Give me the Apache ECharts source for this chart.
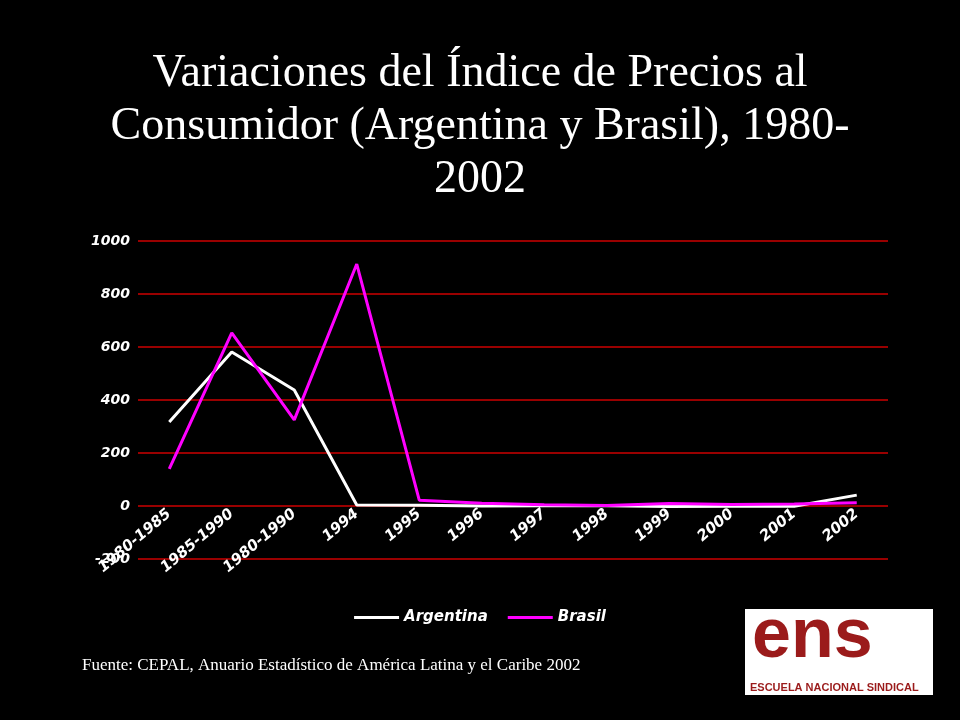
<!DOCTYPE html><html><head><meta charset="utf-8"><script src="https://cdn.jsdelivr.net/npm/echarts@6/dist/echarts.min.js"></script>
<style>html,body{margin:0;background:#000}#c{width:960px;height:720px}</style></head><body><div id="c"></div><script>
const categories=['1980-1985','1985-1990','1980-1990','1994','1995','1996','1997','1998','1999','2000','2001','2002'];
const argentina=[317,581,438,4,3,0,1,1,-2,-1,-1,41];
const brasil=[140,653,325,913,22,10,5,2,9,6,8,12];
const yTicks=[-200,0,200,400,600,800,1000];
const chart=echarts.init(document.getElementById('c'));
chart.setOption({backgroundColor:'#000',animation:false,
title:{text:'Variaciones del Índice de Precios al\nConsumidor (Argentina y Brasil), 1980-\n2002',left:'center',top:42,textStyle:{color:'#fff',fontFamily:'Liberation Serif',fontWeight:'normal',fontSize:46,lineHeight:53}},
grid:{left:138,right:72,top:241,bottom:161},
legend:{bottom:90,left:'center',itemWidth:45,itemGap:20,textStyle:{color:'#fff',fontFamily:'DejaVu Sans',fontStyle:'italic',fontWeight:'bold',fontSize:15},data:['Argentina','Brasil'],icon:'rect',itemHeight:3},
xAxis:{type:'category',data:categories,boundaryGap:true,offset:-53,axisLine:{show:false},axisTick:{show:false},axisLabel:{color:'#fff',rotate:40,fontFamily:'DejaVu Sans',fontWeight:'bold',fontStyle:'italic',fontSize:15,interval:0,margin:6}},
yAxis:{type:'value',min:-200,max:1000,interval:200,axisLine:{show:false},axisTick:{show:false},splitLine:{lineStyle:{color:['#cc0000'],width:1.5}},axisLabel:{color:'#fff',fontFamily:'DejaVu Sans',fontWeight:'bold',fontStyle:'italic',fontSize:14,formatter:v=>yTicks.includes(v)?String(v):''}},
series:[{name:'Argentina',type:'line',data:argentina,symbol:'none',lineStyle:{color:'#fff',width:3},itemStyle:{color:'#fff'}},
{name:'Brasil',type:'line',data:brasil,symbol:'none',lineStyle:{color:'#ff00ff',width:3},itemStyle:{color:'#ff00ff'}}],
graphic:[{type:'text',left:82,top:657,style:{text:'Fuente: CEPAL, Anuario Estadístico de América Latina y el Caribe 2002',fill:'#fff',font:'17px Liberation Serif'}},
{type:'rect',shape:{x:745,y:609,width:188,height:86},style:{fill:'#fff'}},
{type:'text',left:752,top:603,style:{text:'ens',fill:'#9b1b1b',font:'bold 70px Liberation Sans'}},
{type:'text',left:750,top:682,style:{text:'ESCUELA NACIONAL SINDICAL',fill:'#9b1b1b',font:'bold 11px Liberation Sans'}}]
});
</script></body></html>
